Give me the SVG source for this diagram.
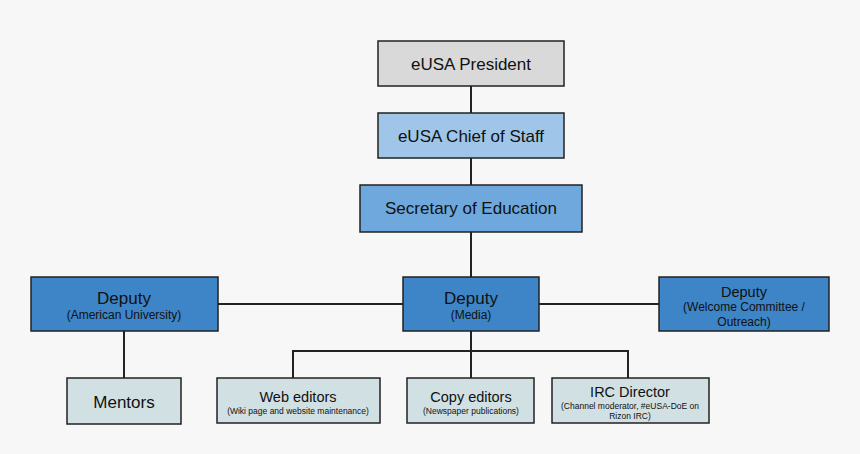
<svg xmlns="http://www.w3.org/2000/svg" width="860" height="454" viewBox="0 0 860 454">
<style>
rect.b{stroke:#222;stroke-width:1.5}
.gray{fill:#d9d9d9}.lb{fill:#9fc5e8}.mb{fill:#6fa8dc}.db{fill:#3d85c6}.pb{fill:#d0e0e3}
text{font-family:"Liberation Sans",Arial,sans-serif;fill:#111;text-anchor:middle}
.t{font-size:17px}.m{font-size:14.5px}.s{font-size:12px}.xs{font-size:8.5px}
#connectors path{stroke:#222;stroke-width:2;fill:none}
</style>
<rect width="860" height="454" fill="#f7f7f7"/>
<g id="connectors">
<path d="M471 86V113M471 158V185M471 232V277M218 304H403M539 304H659M124 331V378M471 331V378M293 378V351H628V378"/>
</g>
<g id="president"><rect class="b gray" x="378" y="41" width="186" height="45"/><text class="t" x="471" y="70">eUSA President</text></g>
<g id="chief"><rect class="b lb" x="378" y="113" width="186" height="45"/><text class="t" x="471" y="142">eUSA Chief of Staff</text></g>
<g id="secretary"><rect class="b mb" x="360" y="185" width="222" height="47"/><text class="t" x="471" y="214">Secretary of Education</text></g>
<g id="deputy-au"><rect class="b db" x="31" y="277" width="187" height="54"/><text class="t" x="124" y="304">Deputy</text><text class="s" x="124" y="319">(American University)</text></g>
<g id="deputy-media"><rect class="b db" x="403" y="277" width="136" height="54"/><text class="t" x="471" y="304">Deputy</text><text class="s" x="471" y="319">(Media)</text></g>
<g id="deputy-welcome"><rect class="b db" x="659" y="277" width="170" height="54"/><text class="m" x="744" y="297">Deputy</text><text class="s" x="744" y="311">(Welcome Committee /</text><text class="s" x="744" y="326">Outreach)</text></g>
<g id="mentors"><rect class="b pb" x="67" y="378" width="114" height="46"/><text class="t" x="124" y="408">Mentors</text></g>
<g id="web-editors"><rect class="b pb" x="217" y="378" width="163" height="45"/><text class="m" x="298" y="402">Web editors</text><text class="xs" x="298" y="414">(Wiki page and website maintenance)</text></g>
<g id="copy-editors"><rect class="b pb" x="407" y="378" width="127" height="45"/><text class="m" x="471" y="402">Copy editors</text><text class="xs" x="471" y="414">(Newspaper publications)</text></g>
<g id="irc-director"><rect class="b pb" x="552" y="378" width="157" height="45"/><text class="m" x="630" y="397">IRC Director</text><text class="xs" x="630" y="409">(Channel moderator, #eUSA-DoE on</text><text class="xs" x="630" y="419">Rizon IRC)</text></g>
</svg>
